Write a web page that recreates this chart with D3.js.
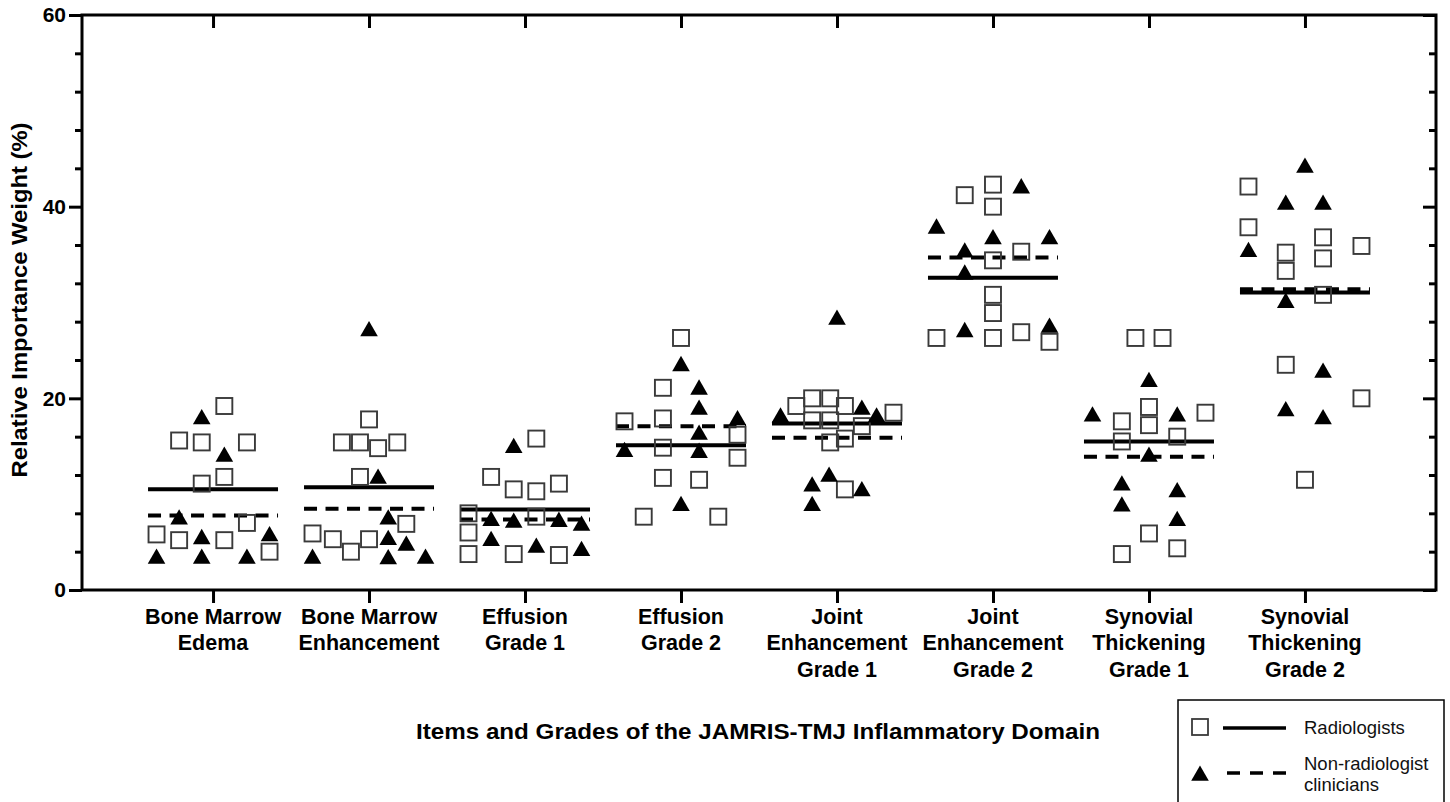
<!DOCTYPE html>
<html>
<head>
<meta charset="utf-8">
<script src="https://cdn.jsdelivr.net/npm/d3@7"></script>
<style>
  html, body { margin: 0; padding: 0; background: #fff; }
  svg { display: block; }
  text { font-family: "Liberation Sans", Arial, sans-serif; }
</style>
</head>
<body>
<svg id="chart" width="1450" height="802"></svg>
<script>
// ---------------- data ----------------
const categories = [
  "Bone Marrow\nEdema",
  "Bone Marrow\nEnhancement",
  "Effusion\nGrade 1",
  "Effusion\nGrade 2",
  "Joint\nEnhancement\nGrade 1",
  "Joint\nEnhancement\nGrade 2",
  "Synovial\nThickening\nGrade 1",
  "Synovial\nThickening\nGrade 2"
];

// Radiologists (open squares), one array per category
const radiologistValues = [
  [19.2, 15.6, 15.4, 15.4, 11.8, 11.1, 7.0, 5.8, 5.2, 5.2, 4.0],
  [17.8, 15.4, 15.4, 14.8, 15.4, 11.8, 6.9, 5.9, 5.3, 4.0, 5.3],
  [15.8, 11.8, 10.5, 10.3, 11.1, 8.0, 7.65, 6.0, 3.75, 3.75, 3.65],
  [26.3, 21.1, 17.6, 17.9, 16.2, 14.85, 13.8, 11.7, 11.5, 7.65, 7.65],
  [19.2, 20.0, 20.0, 19.2, 18.5, 17.7, 17.7, 17.1, 15.4, 15.8, 10.5],
  [42.3, 41.2, 40.0, 35.3, 34.4, 30.8, 28.9, 26.3, 26.3, 26.9, 25.9],
  [26.3, 26.3, 19.1, 17.6, 17.2, 18.5, 16.0, 15.5, 5.9, 3.75, 4.35],
  [42.1, 37.85, 35.2, 33.3, 36.8, 34.6, 35.9, 30.8, 23.5, 20.0, 11.5]
];
// scatter column (in marker widths) of each radiologist point
const radiologistJitter = [
  [0.5, -1.5, -0.5, 1.5, 0.5, -0.5, 1.5, -2.5, -1.5, 0.5, 2.5],
  [0, -1.2, -0.4, 0.4, 1.25, -0.4, 1.65, -2.5, -1.6, -0.8, 0],
  [0.5, -1.5, -0.5, 0.5, 1.5, -2.5, 0.5, -2.5, -2.5, -0.5, 1.5],
  [0, -0.8, -2.5, -0.8, 2.5, -0.8, 2.5, -0.8, 0.8, -1.65, 1.65],
  [-1.8, -1.1, -0.3, 0.35, 2.5, -1.1, -0.3, 1.1, -0.3, 0.35, 0.35],
  [0, -1.25, 0, 1.25, 0, 0, 0, -2.5, 0, 1.25, 2.5],
  [-0.6, 0.6, 0, -1.2, 0, 2.5, 1.25, -1.2, 0, -1.2, 1.25],
  [-2.5, -2.5, -0.85, -0.85, 0.8, 0.8, 2.5, 0.8, -0.85, 2.5, 0]
];

// Non-radiologist clinicians (filled triangles)
const clinicianValues = [
  [18.1, 14.2, 7.65, 5.6, 5.9, 3.55, 3.55, 3.55],
  [27.3, 11.9, 7.65, 5.5, 4.9, 3.55, 3.5, 3.55],
  [15.1, 7.5, 7.3, 7.4, 7.0, 5.4, 4.7, 4.35],
  [23.65, 21.2, 19.1, 18.0, 16.5, 14.7, 14.6, 9.05],
  [28.5, 18.3, 19.1, 18.3, 12.1, 11.1, 10.6, 9.05],
  [42.2, 38.0, 36.9, 36.9, 35.5, 33.2, 27.2, 27.65],
  [22.0, 18.4, 18.4, 14.2, 11.2, 10.5, 9.0, 7.5],
  [44.35, 40.5, 40.5, 35.55, 30.25, 22.95, 18.95, 18.1]
];
const clinicianJitter = [
  [-0.5, 0.5, -1.5, -0.5, 2.5, -2.5, -0.5, 1.5],
  [0, 0.4, 0.85, 0.85, 1.65, -2.5, 0.85, 2.5],
  [-0.5, -1.5, -0.5, 1.5, 2.5, -1.5, 0.5, 2.5],
  [0, 0.8, 0.8, 2.5, 0.8, -2.5, 0.8, 0],
  [0, -2.5, 1.1, 1.75, -0.35, -1.1, 1.1, -1.1],
  [1.25, -2.5, 0, 2.5, -1.25, -1.25, -1.25, 2.5],
  [0, -2.5, 1.25, 0, -1.2, 1.25, -1.2, 1.25],
  [0, -0.85, 0.8, -2.5, -0.85, 0.8, -0.85, 0.8]
];

const yMajorTicks = [0, 20, 40, 60];
const yMinorTicks = [4, 8, 12, 16, 24, 28, 32, 36, 44, 48, 52, 56];
const yTitle = "Relative Importance Weight (%)";
const xTitle = "Items and Grades of the JAMRIS-TMJ Inflammatory Domain";
const legendLabels = ["Radiologists", "Non-radiologist\nclinicians"];

// ---------------- layout ----------------
const svg = d3.select("#chart");
const L = 82, R = 1436, T = 15, B = 590;

const x = d3.scalePoint().domain(categories).range([L, R]).padding(0.84);
const y = d3.scaleLinear().domain([0, 60]).range([B, T]);
const jitter = d3.scaleLinear().domain([-1, 1]).range([-22.6, 22.6]);
const halfLine = 65;

const triPath = "M0,-7.5L8.8,7.8L-8.8,7.8Z";

// ---------------- axes ----------------
const gLeftMinor = svg.append("g").attr("transform", `translate(${L},0)`)
  .call(d3.axisLeft(y).tickValues(yMinorTicks).tickSize(7).tickSizeOuter(0).tickFormat(""));
const gLeft = svg.append("g").attr("transform", `translate(${L},0)`)
  .call(d3.axisLeft(y).tickValues(yMajorTicks).tickSize(13).tickSizeOuter(0).tickPadding(3).tickFormat(d3.format("d")));
// right side: ticks point inward (to the left)
const gRightMinor = svg.append("g").attr("transform", `translate(${R},0)`)
  .call(d3.axisLeft(y).tickValues(yMinorTicks).tickSize(7).tickSizeOuter(0).tickFormat(""));
const gRight = svg.append("g").attr("transform", `translate(${R},0)`)
  .call(d3.axisLeft(y).tickValues(yMajorTicks).tickSize(13).tickSizeOuter(0).tickFormat(""));
const gBottom = svg.append("g").attr("transform", `translate(0,${B})`)
  .call(d3.axisBottom(x).tickSize(13).tickSizeOuter(0).tickFormat(""));
// top side: ticks point inward (down)
const gTop = svg.append("g").attr("transform", `translate(0,${T})`)
  .call(d3.axisBottom(x).tickSize(13).tickSizeOuter(0).tickFormat(""));

[gLeftMinor, gLeft, gRightMinor, gRight, gBottom, gTop].forEach(g => {
  g.select(".domain").remove();
  g.selectAll(".tick line").attr("stroke", "#000").attr("stroke-width", 3);
});
gRightMinor.selectAll(".tick text").remove();
gRight.selectAll(".tick text").remove();

gLeft.selectAll(".tick text")
  .attr("font-size", 21).attr("font-weight", "bold").attr("fill", "#000")
  .attr("font-family", "'Liberation Sans', Arial, sans-serif");

// frame
svg.append("rect")
  .attr("x", L).attr("y", T).attr("width", R - L).attr("height", B - T)
  .attr("fill", "none").attr("stroke", "#000").attr("stroke-width", 3);

// category labels
const catLabels = svg.append("g");
categories.forEach(c => {
  const lines = c.split("\n");
  const t = catLabels.append("text")
    .attr("text-anchor", "middle")
    .attr("font-size", 21.5).attr("font-weight", "bold").attr("fill", "#000");
  lines.forEach((ln, i) => {
    t.append("tspan").attr("x", x(c)).attr("y", 623.5 + i * 26.5).text(ln);
  });
});

// axis titles
svg.append("text")
  .attr("transform", `translate(27,300) rotate(-90)`)
  .attr("text-anchor", "middle")
  .attr("font-size", 22).attr("font-weight", "bold")
  .attr("textLength", 355).attr("lengthAdjust", "spacingAndGlyphs")
  .text(yTitle);

svg.append("text")
  .attr("x", 758).attr("y", 739)
  .attr("text-anchor", "middle")
  .attr("font-size", 22.5).attr("font-weight", "bold")
  .attr("textLength", 684).attr("lengthAdjust", "spacingAndGlyphs")
  .text(xTitle);

// ---------------- marks ----------------
const plot = svg.append("g");

// mean lines
categories.forEach((c, i) => {
  const mr = d3.mean(radiologistValues[i]);
  const mc = d3.mean(clinicianValues[i]);
  plot.append("line")
    .attr("x1", x(c) - halfLine).attr("x2", x(c) + halfLine)
    .attr("y1", y(mr)).attr("y2", y(mr))
    .attr("stroke", "#000").attr("stroke-width", 4);
  plot.append("line")
    .attr("x1", x(c) - halfLine).attr("x2", x(c) + halfLine)
    .attr("y1", y(mc)).attr("y2", y(mc))
    .attr("stroke", "#000").attr("stroke-width", 4)
    .attr("stroke-dasharray", "13,8.5");
});

// squares
categories.forEach((c, i) => {
  const pts = radiologistValues[i].map((v, j) => ({ v, j: radiologistJitter[i][j] }));
  plot.append("g").selectAll("rect").data(pts).join("rect")
    .attr("x", d => x(c) + jitter(d.j) - 8)
    .attr("y", d => y(d.v) - 8)
    .attr("width", 16).attr("height", 16)
    .attr("fill", "none").attr("stroke", "#3a3a3a").attr("stroke-width", 1.9);
});

// triangles
categories.forEach((c, i) => {
  const pts = clinicianValues[i].map((v, j) => ({ v, j: clinicianJitter[i][j] }));
  plot.append("g").selectAll("path").data(pts).join("path")
    .attr("transform", d => `translate(${x(c) + jitter(d.j)},${y(d.v)})`)
    .attr("d", triPath)
    .attr("fill", "#000");
});

// ---------------- legend ----------------
const lg = svg.append("g");
lg.append("rect")
  .attr("x", 1178).attr("y", 700).attr("width", 266).attr("height", 120)
  .attr("fill", "#fff").attr("stroke", "#000").attr("stroke-width", 1.5);

lg.append("rect").attr("x", 1192).attr("y", 719).attr("width", 16).attr("height", 16)
  .attr("fill", "none").attr("stroke", "#3a3a3a").attr("stroke-width", 1.8);
lg.append("line").attr("x1", 1223).attr("x2", 1286).attr("y1", 728).attr("y2", 728)
  .attr("stroke", "#000").attr("stroke-width", 3.5);
lg.append("text").attr("x", 1304).attr("y", 733.5)
  .attr("font-size", 18.5).attr("fill", "#111").text(legendLabels[0]);

lg.append("path").attr("transform", "translate(1200,773)").attr("d", triPath).attr("fill", "#000");
lg.append("line").attr("x1", 1227).attr("x2", 1286).attr("y1", 773).attr("y2", 773)
  .attr("stroke", "#000").attr("stroke-width", 3.5).attr("stroke-dasharray", "13,10");
const lt = lg.append("text").attr("font-size", 18.5).attr("fill", "#111");
legendLabels[1].split("\n").forEach((ln, i) => {
  lt.append("tspan").attr("x", 1304).attr("y", 769.5 + i * 21).text(ln);
});
</script>
</body>
</html>
